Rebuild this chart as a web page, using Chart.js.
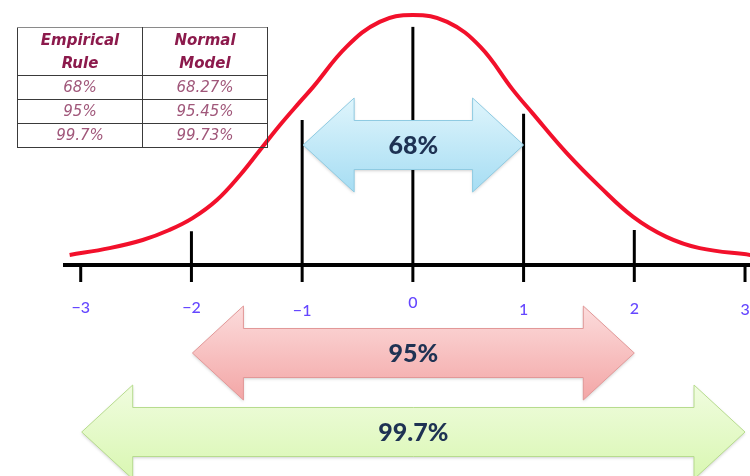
<!DOCTYPE html>
<html>
<head>
<meta charset="utf-8">
<title>Empirical Rule</title>
<script src="https://cdn.jsdelivr.net/npm/chart.js@4.4.0/dist/chart.umd.min.js"></script>
<style>
  html, body { margin: 0; padding: 0; background: #fff; }
  #wrap { position: relative; width: 750px; height: 476px; overflow: hidden; }
  #wrap canvas { position: absolute; left: 0; top: 0; }
  #rule-table {
    position: absolute; left: 17px; top: 27px;
    border-collapse: collapse;
    font-family: "DejaVu Sans", sans-serif; font-style: italic;
  }
  #rule-table th, #rule-table td {
    border: 1px solid #3a3a3a; width: 124px; padding: 0; text-align: center;
  }
  #rule-table tr:first-child th { border-top-color: #8a8a8a; }
  #rule-table th { height: 47px; font-size: 15px; line-height: 23px; font-weight: bold; color: #8c1a4c; }
  #rule-table td { height: 23px; font-size: 15px; line-height: 23px; color: #a0577a; }
</style>
</head>
<body>
<div id="wrap">
  <canvas id="normalChart" width="750" height="476"></canvas>
  <table id="rule-table"></table>
</div>
<script>
// x axis: standard deviations from the mean
const tickValues = [-3, -2, -1, 0, 1, 2, 3];
const tickLabels = ['\u22123', '\u22122', '\u22121', '0', '1', '2', '3'];

// bell curve, read point by point
const curveX = [-3.10, -2.74, -2.44, -2.20, -1.99, -1.77, -1.56, -1.38, -1.20, -1.02, -0.90, -0.60, -0.30, 0.00,
                0.31, 0.61, 0.90, 1.08, 1.39, 1.69, 1.99, 2.29, 2.59, 3.05];
const curveY = [0.016, 0.027, 0.040, 0.056, 0.075, 0.104, 0.144, 0.184, 0.224, 0.261, 0.285, 0.349, 0.389, 0.400,
                0.389, 0.349, 0.281, 0.243, 0.179, 0.125, 0.077, 0.045, 0.027, 0.016];

// vertical guides standing on the axis
const guideX = [-2, -1, 0, 1, 2];
const guideTop = [0.054, 0.232, 0.381, 0.242, 0.056];

// bands covered by the arrows
const bandFrom = [-1, -2, -3];
const bandTo = [1, 2, 3];
const bandLabels = ['68%', '95%', '99.7%'];

// comparison table
const tableHeaders = ['Empirical<br>Rule', 'Normal<br>Model'];
const empiricalPct = ['68%', '95%', '99.7%'];
const normalPct = ['68.27%', '95.45%', '99.73%'];

// build the table
const table = document.getElementById('rule-table');
let html = '<tr>' + tableHeaders.map(h => `<th>${h}</th>`).join('') + '</tr>';
empiricalPct.forEach((e, i) => {
    html += `<tr><td>${e}</td><td>${normalPct[i]}</td></tr>`;
});
table.innerHTML = html;

// double headed arrow
function drawArrow(ctx, x1, x2, cy, c) {
    const head = 51, half = 47, shaft = 24.5;
    ctx.beginPath();
    ctx.moveTo(x1, cy);
    ctx.lineTo(x1 + head, cy - half);
    ctx.lineTo(x1 + head, cy - shaft);
    ctx.lineTo(x2 - head, cy - shaft);
    ctx.lineTo(x2 - head, cy - half);
    ctx.lineTo(x2, cy);
    ctx.lineTo(x2 - head, cy + half);
    ctx.lineTo(x2 - head, cy + shaft);
    ctx.lineTo(x1 + head, cy + shaft);
    ctx.lineTo(x1 + head, cy + half);
    ctx.closePath();
    const g = ctx.createLinearGradient(0, cy - half, 0, cy + half);
    g.addColorStop(0, c.top);
    g.addColorStop(1, c.bottom);
    ctx.save();
    ctx.shadowColor = 'rgba(0,0,0,0.18)';
    ctx.shadowBlur = 3;
    ctx.shadowOffsetY = 1.5;
    ctx.fillStyle = g;
    ctx.fill();
    ctx.restore();
    ctx.lineWidth = 1;
    ctx.strokeStyle = c.line;
    ctx.stroke();
}

// axis line, tick marks and labels
const axisPlugin = {
    id: 'numberLine',
    beforeDatasetsDraw(chart, args, opts) {
        const { ctx, scales: { x, y } } = chart;
        const y0 = y.getPixelForValue(0);
        ctx.save();
        ctx.strokeStyle = '#000';
        ctx.lineWidth = 4;
        ctx.beginPath();
        ctx.moveTo(x.getPixelForValue(opts.from), y0);
        ctx.lineTo(chart.width, y0);
        ctx.stroke();
        ctx.lineWidth = 3;
        tickValues.forEach(v => {
            const px = x.getPixelForValue(v);
            ctx.beginPath();
            ctx.moveTo(px, y0);
            ctx.lineTo(px, y0 + opts.tickLength);
            ctx.stroke();
        });
        ctx.fillStyle = '#6547ff';
        ctx.font = '500 16px Lato, sans-serif';
        ctx.textAlign = 'center';
        ctx.textBaseline = 'middle';
        tickLabels.forEach((t, i) => {
            ctx.fillText(t, x.getPixelForValue(tickValues[i]), y0 + opts.labelOffset[i]);
        });
        ctx.restore();
    }
};

// the three percentage arrows
const arrowPlugin = {
    id: 'bandArrows',
    afterDatasetsDraw(chart, args, opts) {
        const { ctx, scales: { x, y } } = chart;
        ctx.save();
        bandLabels.forEach((label, i) => {
            const x1 = x.getPixelForValue(bandFrom[i]) + 1;
            const x2 = x.getPixelForValue(bandTo[i]);
            const cy = y.getPixelForValue(opts.levels[i]);
            drawArrow(ctx, x1, x2, cy, opts.colors[i]);
            ctx.fillStyle = '#1e3253';
            ctx.font = '900 25px Lato, sans-serif';
            ctx.textAlign = 'center';
            ctx.textBaseline = 'middle';
            ctx.fillText(label, (x1 + x2) / 2, cy + 1);
        });
        ctx.restore();
    }
};

const datasets = [{
    data: curveX.map((v, i) => ({ x: v, y: curveY[i] })),
    borderColor: '#f2102b',
    borderWidth: 4,
    pointRadius: 0,
    tension: 0.4
}];
guideX.forEach((v, i) => {
    datasets.push({
        data: [{ x: v, y: 0 }, { x: v, y: guideTop[i] }],
        borderColor: '#000',
        borderWidth: 3,
        pointRadius: 0
    });
});

new Chart(document.getElementById('normalChart'), {
    type: 'line',
    data: { datasets },
    options: {
        responsive: false,
        animation: false,
        layout: { padding: 0 },
        scales: {
            x: { type: 'linear', min: -3.729, max: 3.045, display: false },
            y: { min: -0.3376, max: 0.424, display: false }
        },
        plugins: {
            legend: { display: false },
            tooltip: { enabled: false },
            numberLine: { from: -3.16, tickLength: 17, labelOffset: [43, 43, 46, 38, 45, 44, 45] },
            bandArrows: {
                levels: [0.192, -0.1408, -0.2672],
                colors: [
                    { top: '#dff5fc', bottom: '#a6ddf3', line: '#8fcbe2' },
                    { top: '#fcdcdc', bottom: '#f3a6a6', line: '#e29898' },
                    { top: '#f0fcdf', bottom: '#d9f7b2', line: '#b7dc8e' }
                ]
            }
        }
    },
    plugins: [axisPlugin, arrowPlugin]
});
</script>
</body>
</html>
